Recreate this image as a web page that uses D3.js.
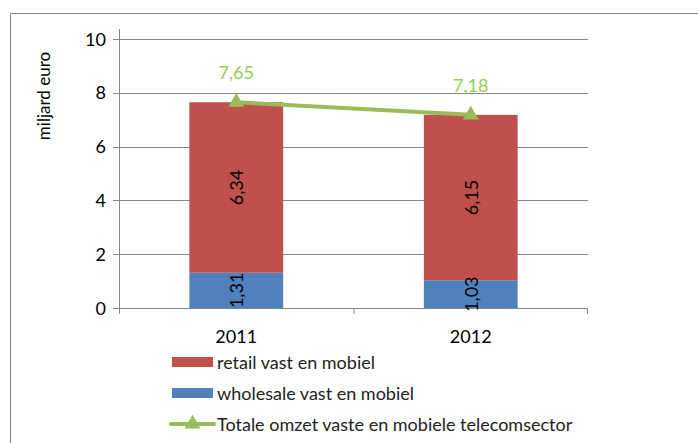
<!DOCTYPE html>
<html>
<head>
<meta charset="utf-8">
<script src="https://cdn.jsdelivr.net/npm/d3@7"></script>
<style>
	body { margin: 0; background: #fff; }
	text { font-family: Lato, "Open Sans", sans-serif; }
</style>
</head>
<body>
<div id="chart"></div>
<script>
var years = ["2011", "2012"];
var wholesale = [1.31, 1.03];
var retail = [6.34, 6.15];
var totaal = [7.65, 7.18];
var yTicks = [0, 2, 4, 6, 8, 10];
var seriesNames = ["retail vast en mobiel", "wholesale vast en mobiel", "Totale omzet vaste en mobiele telecomsector"];

var colors = { retail: "#C0504D", wholesale: "#4F81BD", line: "#9BBB59", label: "#92D050" };

var fmt = function(v) { return v.toFixed(2).replace(".", ","); };

var svg = d3.select("#chart")
	.append("svg")
	.attr("width", 698)
	.attr("height", 443)
	;

// outer frame
svg.append("rect")
	.attr("x", 10.5).attr("y", 13.5)
	.attr("width", 700).attr("height", 450)
	.attr("fill", "none")
	.attr("stroke", "#888")
	;

var x = d3.scaleBand().domain(years).range([119, 588]).paddingInner(0.6).paddingOuter(0.3);
var y = d3.scaleLinear().domain([0, 10]).range([308, 39]);

// gridlines
svg.selectAll("line.grid")
	.data(yTicks)
	.enter().append("line")
	.attr("class", "grid")
	.attr("x1", 113).attr("x2", 588)
	.attr("y1", function(d) { return Math.round(y(d)) + 0.5; })
	.attr("y2", function(d) { return Math.round(y(d)) + 0.5; })
	.attr("stroke", "#868686")
	.attr("stroke-width", 1)
	;

// y tick labels
svg.selectAll("text.ytick")
	.data(yTicks)
	.enter().append("text")
	.attr("x", 106)
	.attr("y", function(d) { return y(d) + 6.5; })
	.attr("text-anchor", "end")
	.attr("font-size", 18)
	.text(function(d) { return d; })
	;

// y axis line
svg.append("line")
	.attr("x1", 119.5).attr("x2", 119.5)
	.attr("y1", 29).attr("y2", 314)
	.attr("stroke", "#868686");

// x tick marks
var edges = [119.5, 354, 587.5];
svg.selectAll("line.xtick")
	.data(edges)
	.enter().append("line")
	.attr("x1", function(d) { return d; })
	.attr("x2", function(d) { return d; })
	.attr("y1", 308).attr("y2", 314)
	.attr("stroke", "#868686");

svg.append("text")
	.attr("transform", "translate(50,96) rotate(-90)")
	.attr("text-anchor", "middle")
	.attr("font-size", 17)
	.text("miljard euro");

// bars
var stack = years.map(function(d, i) {
	return { year: d, w: wholesale[i], r: retail[i] };
});

svg.selectAll("rect.wholesale")
	.data(stack)
	.enter().append("rect")
	.attr("x", function(d) { return x(d.year); })
	.attr("width", x.bandwidth())
	.attr("y", function(d) { return y(d.w); })
	.attr("height", function(d) { return y(0) - y(d.w); })
	.attr("fill", colors.wholesale);

svg.selectAll("rect.retail")
	.data(stack)
	.enter().append("rect")
	.attr("x", function(d) { return x(d.year); })
	.attr("width", x.bandwidth())
	.attr("y", function(d) { return y(d.w + d.r); })
	.attr("height", function(d) { return y(d.w) - y(d.w + d.r); })
	.attr("fill", colors.retail);

// bar labels
var cx = function(d) { return x(d.year) + x.bandwidth() / 2; };
svg.selectAll("text.rlab")
	.data(stack)
	.enter().append("text")
	.attr("transform", function(d) {
		return "translate(" + (cx(d) + 7) + "," + y(d.w + d.r / 2) + ") rotate(-90)";
	})
	.attr("text-anchor", "middle")
	.attr("font-size", 18)
	.text(function(d) { return fmt(d.r); });

svg.selectAll("text.wlab")
	.data(stack)
	.enter().append("text")
	.attr("transform", function(d) {
		return "translate(" + (cx(d) + 7) + "," + y(d.w / 2) + ") rotate(-90)";
	})
	.attr("text-anchor", "middle")
	.attr("font-size", 18)
	.text(function(d) { return fmt(d.w); });

// total line
var line = d3.line()
	.x(function(d, i) { return x(years[i]) + x.bandwidth() / 2; })
	.y(function(d) { return y(d); });

svg.append("path")
	.datum(totaal)
	.attr("d", line)
	.attr("fill", "none")
	.attr("stroke", colors.line)
	.attr("stroke-width", 4);

var tri = d3.symbol().type(d3.symbolTriangle).size(110);
svg.selectAll("path.marker")
	.data(totaal)
	.enter().append("path")
	.attr("d", tri)
	.attr("transform", function(d, i) {
		return "translate(" + (x(years[i]) + x.bandwidth() / 2) + "," + y(d) + ")";
	})
	.attr("fill", colors.line);

svg.selectAll("text.tlab")
	.data(totaal)
	.enter().append("text")
	.attr("x", function(d, i) { return x(years[i]) + x.bandwidth() / 2; })
	.attr("y", function(d) { return y(d) - 23; })
	.attr("text-anchor", "middle")
	.attr("font-size", 18)
	.attr("fill", colors.label)
	.text(function(d) { return fmt(d); });

// x labels
svg.selectAll("text.xlab")
	.data(years)
	.enter().append("text")
	.attr("x", function(d) { return x(d) + x.bandwidth() / 2; })
	.attr("y", 343)
	.attr("text-anchor", "middle")
	.attr("font-size", 18)
	.text(function(d) { return d; });

// legend
var legend = svg.selectAll("g.legend")
	.data(seriesNames)
	.enter().append("g")
	.attr("transform", function(d, i) { return "translate(172," + (362 + i * 31) + ")"; });

legend.append("rect")
	.filter(function(d, i) { return i < 2; })
	.attr("x", 0).attr("y", -5)
	.attr("width", 41).attr("height", 10)
	.attr("fill", function(d, i) { return i === 0 ? colors.retail : colors.wholesale; });

legend.filter(function(d, i) { return i === 2; })
	.each(function() {
		var g = d3.select(this);
		g.append("line")
			.attr("x1", -1).attr("x2", 42).attr("y1", 0).attr("y2", 0)
			.attr("stroke", colors.line).attr("stroke-width", 4)
			.attr("stroke-linecap", "round");
		g.append("path")
			.attr("d", tri)
			.attr("transform", "translate(20.5,0)")
			.attr("fill", colors.line);
	});

legend.append("text")
	.attr("x", 45)
	.attr("y", 6.5)
	.attr("font-size", 18)
	.attr("fill", "#222")
	.text(function(d) { return d; });
</script>
</body>
</html>
